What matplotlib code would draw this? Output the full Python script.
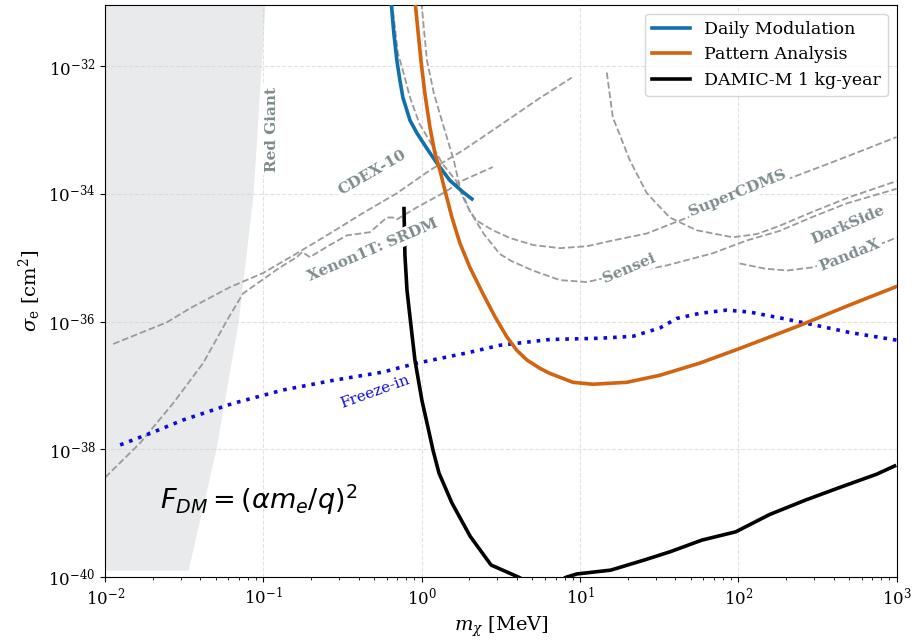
import numpy as np
import matplotlib.pyplot as plt
from matplotlib.ticker import NullLocator

plt.rcParams['font.family'] = 'DejaVu Serif'
plt.rcParams['mathtext.fontset'] = 'dejavuserif'

# curves stored as log10(m_chi / MeV) and log10(sigma_e / cm^2)
daily_lm = [-0.194, -0.176, -0.157, -0.138, -0.119, -0.074, -0.030, 0.033, 0.096, 0.178,
            0.260, 0.317]
daily_ls = [-30.97, -31.49, -31.91, -32.22, -32.49, -32.85, -33.05, -33.29, -33.52, -33.79,
            -33.97, -34.08]

pattern_lm = [-0.043, -0.024, -0.005, 0.020, 0.052, 0.083, 0.115, 0.146, 0.191, 0.241,
              0.304, 0.386, 0.462, 0.538, 0.601, 0.664, 0.746, 0.809, 0.955, 1.081,
              1.295, 1.504, 1.756, 2.009, 2.388, 2.703, 3.0]
pattern_ls = [-30.97, -31.44, -31.91, -32.43, -32.96, -33.36, -33.63, -33.94, -34.37, -34.77,
              -35.15, -35.56, -35.92, -36.24, -36.45, -36.60, -36.73, -36.81, -36.95, -36.98,
              -36.95, -36.84, -36.65, -36.42, -36.06, -35.74, -35.45]

damic_lm = [-0.112, -0.106, -0.093, -0.074, -0.043, 0.001, 0.039, 0.071, 0.109, 0.191,
            0.306, 0.438, 0.612, 0.76, 0.914, 0.980, 1.194, 1.408, 1.572, 1.770,
            1.984, 2.197, 2.428, 2.658, 2.872, 2.987]
damic_ls = [-34.23, -34.96, -35.51, -35.93, -36.60, -37.23, -37.65, -38.01, -38.37, -38.84,
            -39.36, -39.81, -40.0, -40.2, -40.0, -39.95, -39.89, -39.73, -39.60, -39.42,
            -39.29, -39.02, -38.79, -38.58, -38.39, -38.26]

freeze_lm = [-1.905, -1.716, -1.508, -1.192, -0.876, -0.561, -0.245, -0.030, 0.285, 0.494,
             0.809, 1.125, 1.333, 1.504, 1.611, 1.756, 1.927, 2.072, 2.280, 2.495,
             2.703, 3.0]
freeze_ls = [-37.93, -37.75, -37.54, -37.28, -37.07, -36.92, -36.79, -36.65, -36.49, -36.37,
             -36.28, -36.26, -36.23, -36.10, -35.95, -35.87, -35.82, -35.85, -35.95, -36.06,
             -36.17, -36.29]

# existing limits (dashed)
cdex_lm = [-1.949, -1.609, -1.463, -1.211, -1.003, -0.788, -0.580, -0.371, -0.157, 0.052,
           0.260, 0.475, 0.746, 0.948]
cdex_ls = [-36.35, -36.01, -35.79, -35.46, -35.24, -34.93, -34.62, -34.30, -33.99, -33.63,
           -33.32, -32.96, -32.50, -32.18]

xenon_lm = [-2.0, -1.779, -1.571, -1.381, -1.223, -1.129, -0.895, -0.788, -0.756, -0.706,
            -0.580, -0.472, -0.327, -0.220, -0.182, -0.157, -0.030, 0.134, 0.260, 0.449]
xenon_ls = [-38.44, -37.90, -37.28, -36.65, -35.95, -35.56, -35.15, -34.99, -34.91, -34.99,
            -34.80, -34.65, -34.60, -34.37, -34.37, -34.40, -34.21, -33.99, -33.79, -33.58]

supercdms_lm = [-0.188, -0.150, -0.119, -0.074, -0.015, 0.052, 0.134, 0.216, 0.260, 0.304,
                0.348, 0.449, 0.557, 0.702, 0.873, 1.043, 1.207, 1.422, 1.586, 2.009,
                2.343, 2.577, 2.785, 3.0]
supercdms_ls = [-31.0, -31.80, -32.07, -32.49, -32.90, -33.18, -33.54, -33.79, -34.05, -34.27,
                -34.42, -34.57, -34.69, -34.80, -34.85, -34.82, -34.73, -34.62, -34.46, -34.05,
                -33.74, -33.52, -33.32, -33.11]

sensei_lm = [-0.002, 0.033, 0.077, 0.140, 0.203, 0.241, 0.304, 0.393, 0.493, 0.565,
             0.702, 0.873, 1.043, 1.314, 1.548, 1.838, 2.053, 2.261, 2.470, 2.684, 3.0]
sensei_ls = [-31.0, -31.91, -32.43, -32.96, -33.48, -33.90, -34.27, -34.63, -34.94, -35.05,
             -35.20, -35.35, -35.38, -35.23, -35.12, -34.93, -34.73, -34.58, -34.36, -34.15,
             -33.92]

darkside_lm = [1.169, 1.207, 1.314, 1.422, 1.567, 1.737, 1.965, 2.116, 2.261, 2.470, 2.703, 3.0]
darkside_ls = [-32.10, -32.80, -33.47, -33.99, -34.37, -34.57, -34.68, -34.63, -34.50, -34.28,
               -34.05, -33.80]

pandax_lm = [2.009, 2.167, 2.306, 2.470, 2.703, 2.956, 3.0]
pandax_ls = [-35.09, -35.17, -35.20, -35.15, -34.96, -34.73, -34.68]

# red giant cooling bound (right edge of shaded band)
redgiant_lm = [-1.476, -1.30, -1.16, -1.066, -0.99, -0.985]
redgiant_ls = [-39.89, -38.0, -36.01, -34.02, -31.05, -30.9]

fig = plt.figure(figsize=(9.14, 6.42), dpi=100)
ax = fig.add_axes([0.115, 0.101, 0.866, 0.891])


def p(lm, ls):
    return 10 ** np.array(lm), 10 ** np.array(ls)


ax.fill_betweenx(10 ** np.array(redgiant_ls), 1e-3, 10 ** np.array(redgiant_lm),
                 color='#c3c8cc', alpha=0.38, lw=0, zorder=1)

lim_style = dict(color='#9a9a9a', ls='--', lw=1.3, zorder=2)
for lm, ls in [(cdex_lm, cdex_ls), (xenon_lm, xenon_ls), (supercdms_lm, supercdms_ls),
               (sensei_lm, sensei_ls), (darkside_lm, darkside_ls), (pandax_lm, pandax_ls)]:
    ax.plot(*p(lm, ls), **lim_style)

ax.plot(*p(freeze_lm, freeze_ls), color='#0a0adc', ls=':', lw=2.6, zorder=3)

ax.plot(*p(daily_lm, daily_ls), color='#1170aa', lw=2.6, label='Daily Modulation', zorder=4)
ax.plot(*p(pattern_lm, pattern_ls), color='#d2640f', lw=2.6, label='Pattern Analysis', zorder=4)
ax.plot(*p(damic_lm, damic_ls), color='black', lw=2.6, label='DAMIC-M 1 kg-year', zorder=4)

# inline labels for the limit curves
lab = dict(color='#7f8c8d', fontsize=11, fontweight='bold', ha='center', va='center',
           rotation_mode='anchor', zorder=5,
           bbox=dict(facecolor='white', edgecolor='none', pad=1.5))
ax.text(0.113, 1e-33, 'Red Giant', rotation=90, **lab)
ax.text(0.485, 10 ** -33.66, 'CDEX-10', rotation=30, **lab)
ax.text(0.49, 10 ** -34.88, 'Xenon1T: SRDM', rotation=23, **lab)
ax.text(99, 10 ** -33.99, 'SuperCDMS', rotation=22, **lab)
ax.text(20.6, 10 ** -35.16, 'Sensei', rotation=23, **lab)
ax.text(491, 10 ** -34.49, 'DarkSide', rotation=23, **lab)
ax.text(505, 10 ** -34.96, 'PandaX', rotation=22, **lab)
ax.text(0.507, 10 ** -37.10, 'Freeze-in', rotation=20, color='#0a0adc', fontsize=11,
        ha='center', va='center', rotation_mode='anchor', zorder=5)

ax.text(10 ** -1.653, 10 ** -38.79, r'$F_{DM} = (\alpha m_e/q)^2$', fontsize=19.5,
        math_fontfamily='dejavusans', ha='left', va='center', zorder=5)

ax.set_xscale('log')
ax.set_yscale('log')
ax.set_xlim(1e-2, 1e3)
ax.set_ylim(1e-40, 9e-32)
ax.set_yticks([1e-40, 1e-38, 1e-36, 1e-34, 1e-32])
ax.yaxis.set_minor_locator(NullLocator())
ax.tick_params(labelsize=12)
ax.grid(True, which='major', ls='--', color='#d0d0d0', lw=0.8, alpha=0.6)

ax.set_xlabel(r'$m_\chi$ [MeV]', fontsize=14)
ax.set_ylabel(r'$\sigma_\mathrm{e}$ [cm$^2$]', fontsize=14)
ax.legend(loc='upper right', fontsize=12.5, handlelength=2.2)

fig.savefig('out.png')
